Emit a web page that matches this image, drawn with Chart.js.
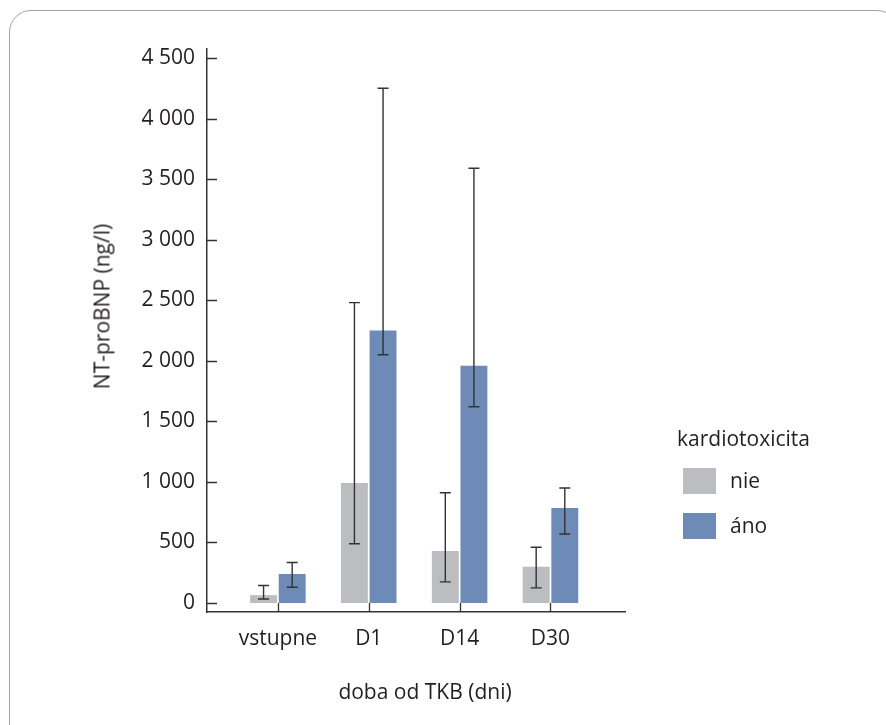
<!DOCTYPE html>
<html>
<head>
<meta charset="utf-8">
<script src="https://cdn.jsdelivr.net/npm/chart.js@4.4.1/dist/chart.umd.min.js"></script>
<style>
  html, body { margin: 0; padding: 0; background: #fff; }
  body { width: 886px; height: 725px; overflow: hidden; position: relative; font-family: "Open Sans", sans-serif; color: #231f20; }
  #frame { position: absolute; left: 9px; top: 10px; width: 890px; height: 740px; border: 1.5px solid #a3a3a3; border-radius: 22px; box-sizing: border-box; }
  #wrap { position: absolute; left: 0; top: 0; width: 886px; height: 725px; }
  .txt { position: absolute; font-size: 21px; line-height: 21px; white-space: nowrap; }
  #ytitle { left: -48px; top: 296px; width: 300px; text-align: center; transform: rotate(-90deg); }
  #xtitle { left: 275px; top: 681px; width: 300px; text-align: center; }
  #legend-title { left: 677px; top: 428px; }
  .lbox { position: absolute; width: 33px; height: 26px; }
</style>
</head>
<body>
<div id="frame"></div>
<div id="wrap"><canvas id="c" width="886" height="725"></canvas></div>
<div class="txt" id="ytitle">NT-proBNP (ng/l)</div>
<div class="txt" id="xtitle">doba od TKB (dni)</div>
<div class="txt" id="legend-title">kardiotoxicita</div>
<div id="legend"></div>
<script>
const categories = ['vstupne', 'D1', 'D14', 'D30'];
const seriesNames = ['nie', 'áno'];
const nieValues = [65, 990, 430, 300];
const nieLow = [33, 490, 175, 125];
const nieHigh = [145, 2480, 910, 460];
const anoValues = [240, 2250, 1960, 785];
const anoLow = [130, 2050, 1620, 570];
const anoHigh = [335, 4250, 3590, 950];
const yTickValues = [0, 500, 1000, 1500, 2000, 2500, 3000, 3500, 4000, 4500];
const yTickLabels = ['0', '500', '1 000', '1 500', '2 000', '2 500', '3 000', '3 500', '4 000', '4 500'];

const colors = ['#bcbdc1', '#6e8bb8'];
const axisColor = '#333333';
const textColor = '#231f20';

const toPoints = vals => vals.map((v, i) => ({ x: i, y: v }));

const errors = [
  { low: nieLow, high: nieHigh },
  { low: anoLow, high: anoHigh }
];

const errorBarPlugin = {
  id: 'errorBars',
  afterDatasetsDraw(chart) {
    const ctx = chart.ctx;
    const ys = chart.scales.y;
    ctx.save();
    ctx.strokeStyle = axisColor;
    ctx.lineWidth = 1.4;
    chart.data.datasets.forEach((ds, di) => {
      const meta = chart.getDatasetMeta(di);
      meta.data.forEach((el, j) => {
        const x = el.x;
        const yl = ys.getPixelForValue(errors[di].low[j]);
        const yh = ys.getPixelForValue(errors[di].high[j]);
        ctx.beginPath();
        ctx.moveTo(x, yl); ctx.lineTo(x, yh);
        ctx.moveTo(x - 5.5, yl); ctx.lineTo(x + 5.5, yl);
        ctx.moveTo(x - 5.5, yh); ctx.lineTo(x + 5.5, yh);
        ctx.stroke();
      });
    });
    ctx.restore();
  }
};

const innerTicksPlugin = {
  id: 'innerTicks',
  afterDraw(chart) {
    const ctx = chart.ctx;
    const xs = chart.scales.x, ys = chart.scales.y;
    const area = chart.chartArea;
    ctx.save();
    ctx.strokeStyle = axisColor;
    ctx.lineWidth = 1.3;
    ctx.beginPath();
    yTickValues.forEach(v => {
      const y = Math.round(ys.getPixelForValue(v)) + 0.5;
      ctx.moveTo(area.left, y); ctx.lineTo(area.left + 10, y);
    });
    categories.forEach((c, i) => {
      const x = Math.round(xs.getPixelForValue(i)) + 0.5;
      ctx.moveTo(x, area.bottom); ctx.lineTo(x, area.bottom - 9);
    });
    ctx.stroke();
    ctx.restore();
  }
};

const datasets = [
  { label: seriesNames[0], data: toPoints(nieValues), backgroundColor: colors[0] },
  { label: seriesNames[1], data: toPoints(anoValues), backgroundColor: colors[1] }
];

// HTML legend
const legend = document.getElementById('legend');
const legendTops = [468, 513];
datasets.forEach((ds, i) => {
  const b = document.createElement('div');
  b.className = 'lbox';
  b.style.left = '683px';
  b.style.top = legendTops[i] + 'px';
  b.style.background = ds.backgroundColor;
  legend.appendChild(b);
  const t = document.createElement('div');
  t.className = 'txt';
  t.style.left = '730px';
  t.style.top = (legendTops[i] + 2) + 'px';
  t.textContent = ds.label;
  legend.appendChild(t);
});

new Chart(document.getElementById('c'), {
  type: 'bar',
  data: { datasets },
  options: {
    responsive: false,
    animation: false,
    layout: { padding: { left: 0, top: 49, right: 261, bottom: 0 } },
    categoryPercentage: 0.63,
    barPercentage: 0.94,
    plugins: { legend: { display: false }, tooltip: { enabled: false } },
    scales: {
      x: {
        type: 'linear',
        offset: false,
        min: -0.78,
        max: 3.82,
        afterBuildTicks: s => { s.ticks = categories.map((c, i) => ({ value: i })); },
        afterFit: s => { s.height = 113; },
        grid: { display: false, drawTicks: false },
        border: { display: true, color: axisColor, width: 1.5 },
        ticks: {
          padding: 14,
          color: textColor,
          font: { family: 'Open Sans', size: 21 },
          autoSkip: false,
          maxRotation: 0,
          callback: v => categories[v]
        }
      },
      y: {
        min: -74,
        max: 4574,
        afterBuildTicks: s => { s.ticks = yTickValues.map(v => ({ value: v })); },
        afterFit: s => { s.width = 207; },
        grid: { display: false, drawTicks: false },
        border: { display: true, color: axisColor, width: 1.5 },
        ticks: {
          padding: 12,
          color: textColor,
          font: { family: 'Open Sans', size: 21 },
          callback: v => yTickLabels[yTickValues.indexOf(v)]
        }
      }
    }
  },
  plugins: [errorBarPlugin, innerTicksPlugin]
});
</script>
</body>
</html>
